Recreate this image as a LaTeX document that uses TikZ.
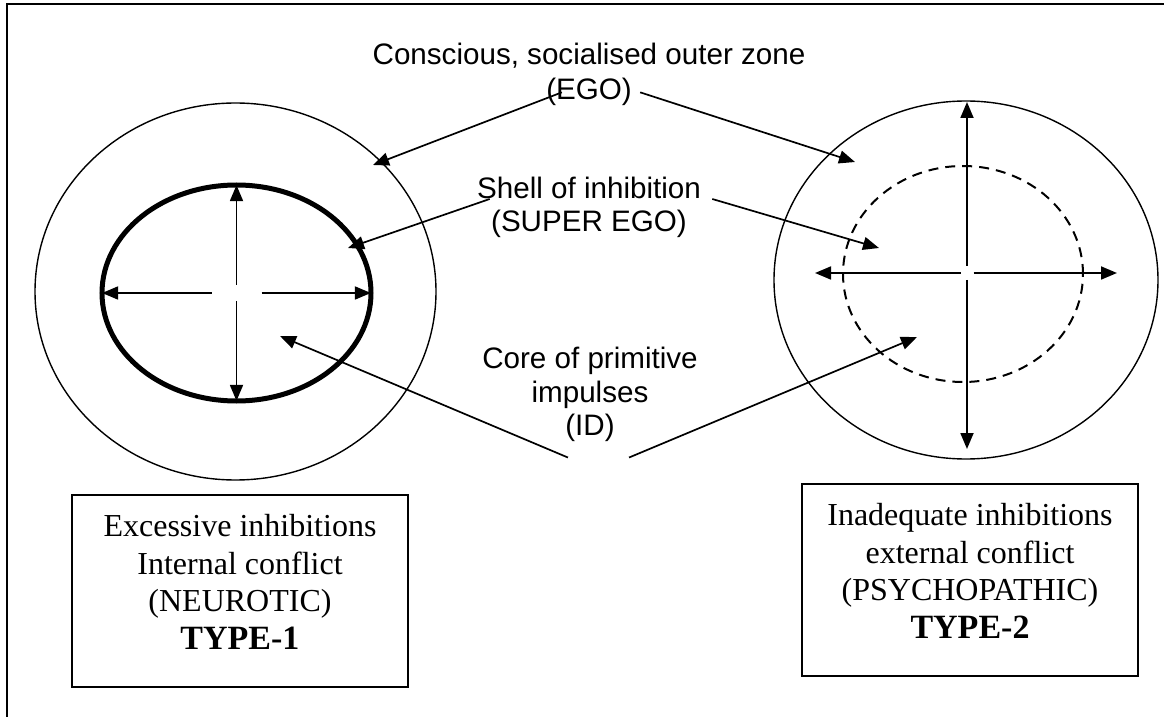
\documentclass[tikz,border=0pt]{standalone}
\usepackage{fontspec}
\setmainfont{Liberation Serif}
\newfontfamily\arialfont{Liberation Sans}
\usetikzlibrary{arrows.meta}
\usetikzlibrary{positioning}
\usetikzlibrary{shapes.geometric}

\begin{document}
\begin{tikzpicture}[x=0.5pt,y=-0.5pt,>={Triangle[length=8pt,width=6.5pt]},
					  zone label/.style={font=\arialfont\fontsize{14.8}{17}\selectfont,inner sep=0pt,anchor=base},
					  zone/.style={ellipse,draw,inner sep=0pt,line width=0.7pt},
					  type box/.style={draw,line width=1pt,minimum width=168pt,minimum height=96pt,inner sep=0pt},
					  type text/.style={align=center,font=\fontsize{16}{18.8}\selectfont,inner sep=0pt,yshift=4.5pt},
					  pointer/.style={->,line width=0.85pt},
					  cross arrow/.style={->,line width=0.9pt}]

					  \useasboundingbox (0,0) rectangle (1164,717);
					  \clip (0,0) rectangle (1164,717);
					  \draw[line width=1.3pt] (7,730) |- (1180,4);

					  \node[zone,minimum width=200.5pt,minimum height=188.5pt] (egoL) at (235.5,291.5) {};
					  \node[zone,line width=2.5pt,minimum width=134.5pt,minimum height=108pt] (superL) at (236.5,293) {};
					  \node[zone,minimum width=192pt,minimum height=179pt] (egoR) at (966,280) {};
					  \node[zone,line width=1pt,dash pattern=on 5pt off 3.5pt,minimum width=120pt,minimum height=108pt] (superR) at (963,274) {};

					  \path[cross arrow,shorten >=1.3pt]
					    ([yshift=4pt]superL.center) edge (superL.north)
					    ([yshift=-4pt]superL.center) edge (superL.south)
					    ([xshift=-12.5pt]superL.center) edge (superL.west)
					    ([xshift=12.5pt]superL.center) edge (superL.east)
					;

					  \coordinate (cR) at (967,273);
					  \coordinate (upR) at (967,102);
					  \coordinate (downR) at (967,449);
					  \coordinate (leftR) at (815,273);
					  \coordinate (rightR) at (1117,273);
					  \path[cross arrow]
					    ([yshift=3.5pt]cR) edge (upR)
					    ([yshift=-3.5pt]cR) edge (downR)
					    ([xshift=-3.25pt]cR) edge (leftR)
					    ([xshift=3.25pt]cR) edge (rightR)
					;

					  \node[zone label] (consc) at (589,65) {Conscious, socialised outer zone};
					  \node[zone label] (ego) at ([yshift=-17.5pt]consc.base) {(EGO)};
					  \node[zone label] (shell) at (589,199) {Shell of inhibition};
					  \node[zone label] (superego) at ([yshift=-16.5pt]shell.base) {(SUPER EGO)};
					  \node[zone label] (core) at (590,368) {Core of primitive};
					  \node[zone label] (impulses) at ([yshift=-17pt]core.base) {impulses};
					  \node[zone label] (id) at ([yshift=-17pt]impulses.base) {(ID)};

					  \coordinate (egoinL) at (373,165);
					  \coordinate (egoinR) at (855,162);
					  \coordinate (supinL) at (348,248);
					  \coordinate (supinR) at (879,248);
					  \coordinate (idinL) at (280,336);
					  \coordinate (idinR) at (917,337);

					  \path[pointer]
					    ([xshift=8pt]ego.west) edge (egoinL)
					    ([xshift=4pt]ego.east) edge (egoinR)
					    ([xshift=6.5pt]shell.base west) edge (supinL)
					    ([xshift=5.5pt]shell.base east) edge (supinR)
					    ([xshift=1.5pt,yshift=-7.5pt]id.south west) edge (idinL)
					    ([xshift=7pt,yshift=-7.5pt]id.south east) edge (idinR)
					;

					  \node[type box] (neurbox) at (240,591) {};
					  \node[type text] (neurtext) at (neurbox.center) {Excessive inhibitions\\Internal conflict\\(NEUROTIC)\\{\fontsize{17}{18.8}\selectfont\textbf{TYPE-1}}};
					  \node[type box] (psychbox) at (970,580) {};
					  \node[type text] (psychtext) at (psychbox.center) {Inadequate inhibitions\\external conflict\\(PSYCHOPATHIC)\\{\fontsize{17}{18.8}\selectfont\textbf{TYPE-2}}};
					\end{tikzpicture}
\end{document}
